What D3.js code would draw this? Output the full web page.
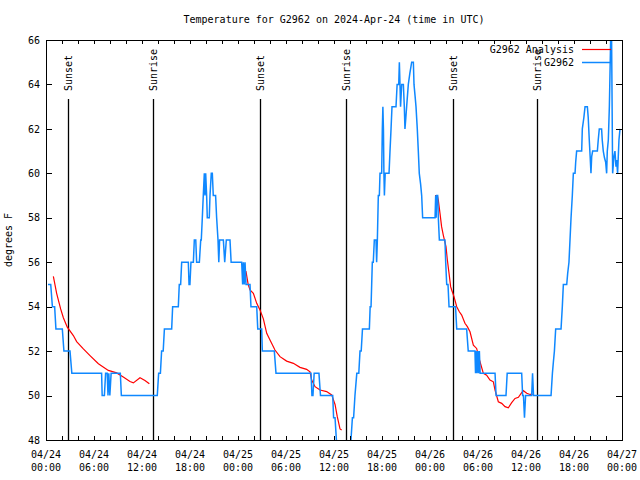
<!DOCTYPE html>
<html>
<head>
<meta charset="utf-8">
<script src="https://cdn.jsdelivr.net/npm/d3@7"></script>
<style>
  html, body { margin: 0; padding: 0; background: #fff; }
  svg text { font-family: "DejaVu Sans Mono", "Liberation Mono", monospace; font-size: 10px; fill: #000; }
</style>
</head>
<body>
<svg id="chart" width="640" height="480"></svg>
<script>
// ---- data (hours since 2024-04-24 00:00 UTC, degrees F) ----
const titleText = "Temperature for G2962 on 2024-Apr-24 (time in UTC)";
const yLabelText = "degrees F";
const yTicks = [48, 50, 52, 54, 56, 58, 60, 62, 64, 66];

const obsHours = [0.25,0.59,0.80,1.08,1.24,2.04,2.24,3.00,3.23,6.95,7.02,7.30,7.45,7.65,7.75,7.85,7.98,8.14,9.29,9.42,
  13.91,14.08,14.30,14.45,14.65,14.80,15.71,15.83,16.54,16.66,16.83,16.96,17.79,17.88,17.99,18.12,18.42,18.54,18.72,18.83,
  19.17,19.34,19.41,19.54,19.66,19.79,19.87,19.96,20.08,20.16,20.41,20.50,20.66,20.79,20.91,21.20,21.33,21.50,21.60,21.70,
  22.17,22.34,22.54,23.00,23.14,24.46,24.58,24.67,24.78,24.88,25.00,25.50,25.62,26.34,26.47,26.96,27.04,28.54,28.75,
  33.13,33.24,33.37,33.52,34.12,34.31,35.84,35.95,36.13,36.30,36.49,37.93,38.12,38.30,38.45,38.62,38.85,39.10,39.25,39.40,39.56,
  40.42,40.52,40.63,40.71,40.79,40.91,41.04,41.25,41.33,41.42,41.54,41.67,41.75,41.96,42.04,42.11,42.18,42.24,42.30,42.40,
  42.88,43.00,43.13,43.25,43.75,43.89,44.09,44.17,44.25,44.32,44.46,44.56,44.67,44.79,44.87,44.98,45.08,45.29,45.48,45.71,
  45.92,46.00,46.13,46.25,46.41,46.54,46.66,46.83,46.96,47.08,48.63,48.71,48.77,48.83,48.96,49.04,49.17,49.87,49.96,50.09,
  50.25,50.38,51.19,51.34,52.58,52.78,53.62,53.69,53.77,53.87,53.97,54.07,54.17,54.27,56.13,56.26,57.50,57.65,59.46,59.58,
  59.68,59.81,59.95,60.71,60.82,60.94,63.13,63.30,63.42,63.55,63.71,64.38,64.54,64.67,65.09,65.21,65.37,65.50,65.63,65.79,
  65.92,66.13,66.21,66.33,66.96,67.04,67.23,67.38,67.67,67.78,67.91,68.02,68.12,68.21,68.33,68.92,69.03,69.16,69.45,69.53,
  69.66,69.81,69.96,70.08,70.16,70.29,70.42,70.50,70.58,70.70,70.83,70.99,71.12,71.25,71.33,71.45,71.62,71.75];
const obsTemps = [55,55,54,54,53,53,52,52,51,51,50,50,51,51,50,51,50,51,51,50,
  50,51,51,52,52,53,53,54,54,55,55,56,56,55,55,56,56,57,57,56,
  56,57,57,58,59,60,59,60,59,58,58,59,60,60,59,59,58,57,56,57,
  57,56,57,57,56,56,55,56,55,56,55,55,54,54,53,53,52,52,51,
  51,50,50,51,51,50,50,49,49,48,47,47,48,49,49,50,51,51,52,52,53,
  53,54,54,55,56,56,57,57,56,57,59,59,60,60,62,63,62,60,59,60,
  60,61,62,63,63,64,64,65,64,63,64,64,64,63,62,62.5,63,64,64.5,65,
  65,64,63.5,63,62,61,60,59.5,59,58,58,59,58,59,59,58,57,57,56,55,
  55,54,54,53,53,52,52,51,52,51,52,51,52,51,51,50,50,51,51,50,
  50,49,50,50,51,50,50,51,51.5,52,53,53,54,55,55,55.5,56,57,58,59,
  60,60,60.5,61,61,62,62.5,63,63,62.5,61.5,60.75,60,60.75,61,61,61.5,62,62,61.5,
  61,60.7,60.5,60,61,61.5,63,64.5,66,66,60,60.75,61,60.3,60.6,60,61.5,62];

// analysis series: null marks a break between runs
const anaHours = [0.92,1.33,1.83,2.17,2.66,3.42,3.83,4.67,5.50,6.55,7.79,8.83,9.66,10.50,10.92,11.75,12.37,12.92,
  null,
  24.99,25.27,25.50,25.92,26.34,26.75,27.17,27.59,28.00,28.62,29.25,30.08,30.92,31.75,32.58,33.00,33.21,33.63,34.25,35.08,35.71,36.13,36.41,36.75,36.96,
  null,
  48.63,48.92,49.04,49.25,49.45,49.66,50.00,50.17,50.38,50.58,50.71,51.00,51.34,51.67,51.96,52.37,52.67,53.00,53.42,53.83,
  54.25,54.67,55.08,55.50,55.92,56.13,56.54,56.96,57.38,57.79,58.21,58.63,59.05,59.46,59.67,60.09,60.50,60.83];
const anaTemps = [55.36,54.6,53.9,53.5,53.08,52.7,52.43,52.1,51.8,51.43,51.13,51.02,50.83,50.63,50.57,50.8,50.68,50.53,
  null,
  55.6,55.0,54.75,54.6,54.15,53.85,53.45,52.8,52.5,52.05,51.75,51.55,51.45,51.27,51.18,51.07,50.7,50.4,50.25,50.18,50.03,49.6,49.05,48.5,48.45,
  null,
  59.0,59.0,58.8,58.2,57.6,57.22,56.7,56.1,55.5,54.9,54.75,54.45,54.0,53.77,53.62,53.25,53.1,52.87,52.27,52.12,
  51.52,51.0,50.92,50.7,50.62,50.25,49.72,49.65,49.5,49.45,49.68,49.87,49.92,50.13,50.22,50.1,50.05,50.05];

const sunHours = [2.79, 13.41, 26.79, 37.44, 50.84, 61.34];
const sunLabels = ["Sunset", "Sunrise", "Sunset", "Sunrise", "Sunset", "Sunrise"];
const seriesNames = ["G2962 Analysis", "G2962"];
const seriesColors = ["#ff0000", "#0f88ff"];

// ---- layout ----
const svg = d3.select("#chart");
const L = 46, R = 622, T = 40, B = 440;
const t0 = Date.UTC(2024, 3, 24, 0, 0);
const toDate = h => new Date(t0 + h * 3600000);

const x = d3.scaleUtc().domain([toDate(0), toDate(72)]).range([L, R]);
const y = d3.scaleLinear().domain([48, 66]).range([B, T]);

svg.append("rect").attr("width", 640).attr("height", 480).attr("fill", "#fff");

svg.append("defs").append("clipPath").attr("id", "plotclip")
  .append("rect").attr("x", L).attr("y", T).attr("width", R - L).attr("height", B - T);

// sunrise / sunset markers
const sunG = svg.append("g");
sunHours.forEach((h, i) => {
  const sx = Math.round(x(toDate(h))) + 0.5;
  sunG.append("line").attr("x1", sx).attr("x2", sx).attr("y1", 99).attr("y2", B)
    .attr("stroke", "#000").attr("stroke-width", 1.3);
  sunG.append("text").attr("transform", `translate(${sx},91) rotate(-90)`)
    .attr("text-anchor", "start").attr("dominant-baseline", "middle").text(sunLabels[i]);
});

// series
const line = d3.line()
  .defined(d => d[0] !== null && d[1] !== null)
  .x(d => x(toDate(d[0]))).y(d => y(d[1]));

const anaData = anaHours.map((h, i) => [h, anaTemps[i]]);
const obsData = obsHours.map((h, i) => [h, obsTemps[i]]);

const plot = svg.append("g").attr("clip-path", "url(#plotclip)");
plot.append("path").attr("d", line(anaData)).attr("fill", "none")
  .attr("stroke", seriesColors[0]).attr("stroke-width", 1.2);
plot.append("path").attr("d", line(obsData)).attr("fill", "none")
  .attr("stroke", seriesColors[1]).attr("stroke-width", 1.5);

// axes (ticks inward, mirrored)
const xTickVals = d3.utcHour.every(2).range(toDate(0), toDate(72.01));
const gxB = svg.append("g").attr("transform", `translate(0,${B})`)
  .call(d3.axisBottom(x).tickValues(xTickVals).tickSize(-4).tickSizeOuter(0).tickFormat(""));
const gxT = svg.append("g").attr("transform", `translate(0,${T})`)
  .call(d3.axisTop(x).tickValues(xTickVals).tickSize(-4).tickSizeOuter(0).tickFormat(""));
const gyL = svg.append("g").attr("transform", `translate(${L},0)`)
  .call(d3.axisLeft(y).tickValues(yTicks).tickSize(-6).tickSizeOuter(0).tickPadding(6).tickFormat(d3.format("d")));
const gyR = svg.append("g").attr("transform", `translate(${R},0)`)
  .call(d3.axisRight(y).tickValues(yTicks).tickSize(-6).tickSizeOuter(0).tickFormat(""));
[gxB, gxT, gyL, gyR].forEach(g => {
  g.select(".domain").remove();
  g.selectAll(".tick line").attr("stroke", "#000").attr("shape-rendering", "crispEdges");
  g.selectAll("text").attr("font-family", null).attr("font-size", null);
});

// x labels every 6 hours, two lines
const labelVals = d3.utcHour.every(6).range(toDate(0), toDate(72.01));
const fmtD = d3.utcFormat("%m/%d"), fmtT = d3.utcFormat("%H:%M");
const xl = svg.append("g");
labelVals.forEach(d => {
  const t = xl.append("text").attr("text-anchor", "middle");
  t.append("tspan").attr("x", x(d)).attr("y", 458).text(fmtD(d));
  t.append("tspan").attr("x", x(d)).attr("y", 471).text(fmtT(d));
});

// border
svg.append("rect").attr("x", L + 0.5).attr("y", T + 0.5).attr("width", R - L).attr("height", B - T)
  .attr("fill", "none").attr("stroke", "#000").attr("stroke-width", 1).attr("shape-rendering", "crispEdges");

// title & y label
svg.append("text").attr("x", (L + R) / 2).attr("y", 23).attr("text-anchor", "middle").text(titleText);
svg.append("text").attr("transform", "translate(12,240) rotate(-90)").attr("text-anchor", "middle").text(yLabelText);

// legend
const leg = svg.append("g");
seriesNames.forEach((n, i) => {
  const ly = 50 + i * 13;
  leg.append("text").attr("x", 574).attr("y", ly).attr("text-anchor", "end")
    .attr("dominant-baseline", "middle").text(n);
  leg.append("line").attr("x1", 582).attr("x2", 611).attr("y1", ly - 0.5).attr("y2", ly - 0.5)
    .attr("stroke", seriesColors[i]).attr("stroke-width", i === 0 ? 1.2 : 1.5);
});
</script>
</body>
</html>
